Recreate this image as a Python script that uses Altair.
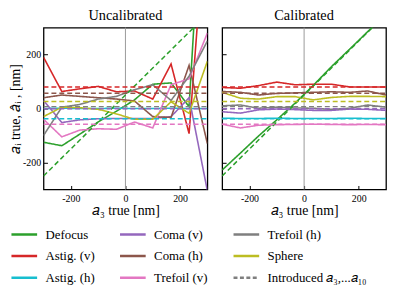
import altair as alt
import pandas as pd

# ---------------- data ----------------
x_true = [-300, -233, -167, -100, -33, 33, 100, 167, 233, 300]

names = ["Defocus", "Astig. (v)", "Astig. (h)", "Coma (v)", "Coma (h)",
         "Trefoil (v)", "Trefoil (h)", "Sphere"]
colors = ["#2ca02c", "#d62728", "#17becf", "#9467bd", "#8c564b",
          "#e377c2", "#7f7f7f", "#bcbd22"]
INTRO = "Introduced 𝑎₃,...𝑎₁₀"

# estimated coefficients, uncalibrated
unc_defocus = [-125, -138, -95, -50, -10, 32, 90, 95, 7, 1150]
unc_astig_v = [190, 63, 73, 82, 62, 65, 35, 165, -93, 800]
unc_astig_h = [0, 1, 0, 0, 1, 0, 0, 1, 0, 0]
unc_coma_v = [30, -52, -42, -38, -37, -37, -37, -30, 40, -305]
unc_coma_h = [40, 50, 45, 40, 35, 28, -30, -33, 160, -130]
unc_tref_v = [-40, -105, -80, -75, -77, -50, -72, 88, 110, 280]
unc_tref_h = [-100, 5, 15, 35, 45, 70, 88, 30, 120, 250]
unc_sphere = [-30, 5, 3, -3, -20, -40, -40, 25, -18, 175]

# estimated coefficients, calibrated
cal_defocus = [-228, -165, -102, -42, 20, 85, 155, 220, 285, 350]
cal_astig_v = [78, 75, 85, 98, 88, 90, 90, 80, 80, 80]
cal_astig_h = [-36, -37, -37, -36, -37, -37, -37, -36, -37, -37]
cal_coma_v = [-12, -17, -5, -2, -4, -7, -7, -2, -3, -7]
cal_coma_h = [63, 60, 50, 56, 58, 60, 62, 60, 65, 50]
cal_tref_v = [-58, -72, -62, -60, -59, -58, -59, -60, -59, -60]
cal_tref_h = [10, 13, 1, 5, 2, 1, -3, 1, 13, 5]
cal_sphere = [60, 38, 35, 44, 44, 32, 41, 45, 45, 44]

# introduced (true) values
intro_defocus = [-250, -183, -117, -50, 17, 83, 150, 217, 283, 350]
intro_const = [80, -38, -1, 57, -58, 7, 26]  # astig v, astig h, coma v, coma h, tref v, tref h, sphere

unc = [unc_defocus, unc_astig_v, unc_astig_h, unc_coma_v, unc_coma_h,
       unc_tref_v, unc_tref_h, unc_sphere]
cal = [cal_defocus, cal_astig_v, cal_astig_h, cal_coma_v, cal_coma_h,
       cal_tref_v, cal_tref_h, cal_sphere]

def est_frame(series_lists):
    rows = []
    for n, vals in zip(names, series_lists):
        for xv, yv in zip(x_true, vals):
            rows.append({"series": n, "x": xv, "y": yv})
    return pd.DataFrame(rows)

def intro_frame():
    rows = []
    for xv, yv in zip(x_true, intro_defocus):
        rows.append({"series": names[0], "x": xv, "y": yv})
    for n, c in zip(names[1:], intro_const):
        for xv in (x_true[0], x_true[-1]):
            rows.append({"series": n, "x": xv, "y": c})
    return pd.DataFrame(rows)

df_unc = est_frame(unc)
df_cal = est_frame(cal)
df_intro = intro_frame()

# ---------------- chart ----------------
FONT = "Liberation Serif"
legend_order = names + [INTRO]
color_scale = alt.Scale(domain=legend_order, range=colors + ["#7f7f7f"])
dash_scale = alt.Scale(domain=legend_order, range=[[1, 0]] * 8 + [[4, 2.5]])

leg = alt.Legend(title=None, orient="none", legendX=-34, legendY=195,
                 columns=3, direction="vertical", symbolType="stroke",
                 symbolSize=676, symbolStrokeWidth=2.5, labelFont=FONT,
                 labelFontSize=13, labelOffset=7, rowPadding=-3,
                 columnPadding=20, labelLimit=200)

XS = alt.Scale(domain=[-300, 300], nice=False, zero=False)
YS = alt.Scale(domain=[-300, 300], nice=False, zero=False)

def panel(title, df, first):
    xs = alt.X("x:Q", scale=XS,
               axis=alt.Axis(values=[-200, 0, 200], title="𝑎₃ true [nm]",
                             labelExpr="datum.value", offset=-4, tickSize=4,
                             labelPadding=4, titlePadding=0))
    ys = alt.Y("y:Q", scale=YS,
               axis=alt.Axis(values=[-200, 0, 200], labels=first,
                             title="𝑎ᵢ true, 𝑎̂ᵢ , [nm]" if first else None,
                             labelExpr="datum.value", offset=-4, tickSize=4,
                             labelPadding=3, titlePadding=0))
    zero = alt.Chart(pd.DataFrame({"x": [0]})).mark_rule(
        color="#999999", strokeWidth=1).encode(x=alt.X("x:Q", scale=XS))
    solid = alt.Chart(df).mark_line(strokeWidth=1.6, clip=True).encode(
        x=xs, y=ys,
        color=alt.Color("series:N", scale=color_scale, legend=leg),
        strokeDash=alt.StrokeDash("series:N", scale=dash_scale, legend=leg),
    )
    dashed = alt.Chart(df_intro).mark_line(strokeWidth=1.5, strokeDash=[5, 3], clip=True).encode(
        x=xs, y=ys,
        color=alt.Color("series:N", scale=color_scale, legend=leg),
    )
    return alt.layer(zero, solid, dashed).properties(
        width=166, height=164, title=title)

chart = alt.hconcat(panel("Uncalibrated", df_unc, True),
                    panel("Calibrated", df_cal, False), spacing=12
).resolve_scale(color="shared", strokeDash="shared").properties(
    padding={"left": 0, "right": 0, "top": -3, "bottom": 0}
).configure(font=FONT).configure_axis(
    labelFont=FONT, labelFontSize=10, titleFont=FONT, titleFontSize=14,
    titleFontWeight="normal", labelColor="black", titleColor="black",
    tickColor="black", domain=False, grid=False
).configure_view(stroke="black", strokeWidth=1.3).configure_title(
    font=FONT, fontSize=14.5, fontWeight="normal", offset=0
)

chart.save("out.html", embed_options={"renderer": "svg", "actions": False})
